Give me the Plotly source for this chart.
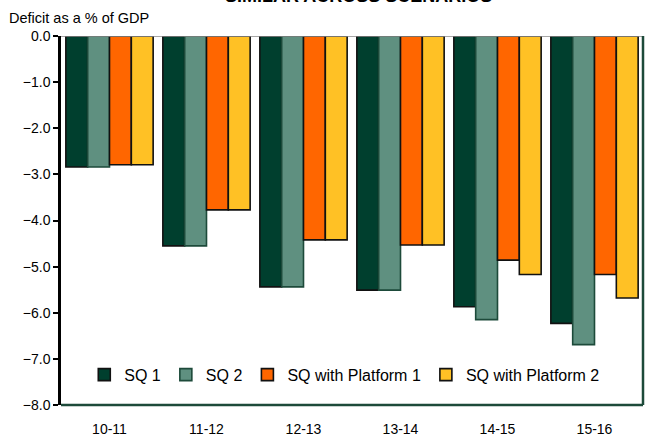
import plotly.graph_objects as go

years = ["10-11", "11-12", "12-13", "13-14", "14-15", "15-16"]
sq1 = [-2.84, -4.55, -5.44, -5.51, -5.87, -6.23]
sq2 = [-2.84, -4.55, -5.44, -5.51, -6.15, -6.69]
platform1 = [-2.79, -3.77, -4.42, -4.53, -4.86, -5.17]
platform2 = [-2.79, -3.77, -4.42, -4.53, -5.17, -5.68]

series = [
    ("SQ 1", sq1, "#003f2e", "#111111"),
    ("SQ 2", sq2, "#5f9080", "#1d4a3a"),
    ("SQ with Platform 1", platform1, "#ff6600", "#111111"),
    ("SQ with Platform 2", platform2, "#ffc125", "#111111"),
]

fig = go.Figure()
for name, vals, fill, edge in series:
    fig.add_trace(go.Bar(
        x=years, y=vals, name=name,
        marker=dict(color=fill, line=dict(color=edge, width=1.6)),
    ))

fig.update_layout(
    width=647, height=437,
    margin=dict(l=61, r=4, t=36, b=32),
    paper_bgcolor="white", plot_bgcolor="white",
    barmode="group", bargap=0.1, bargroupgap=0,
    font=dict(family="Liberation Sans, Arial, sans-serif", size=14, color="#000"),
    showlegend=True,
    legend=dict(
        orientation="h", x=0.04, y=0.082, xanchor="left", yanchor="middle",
        font=dict(size=16), bgcolor="rgba(0,0,0,0)",
        itemwidth=30, tracegroupgap=0,
    ),
    xaxis=dict(type="category", showline=False, ticks="outside", ticklen=11,
               tickcolor="rgba(0,0,0,0)", showgrid=False, automargin=False,
               zeroline=False, tickfont=dict(size=14)),
    yaxis=dict(range=[-8, 0], dtick=1, tickformat=".1f", showgrid=False,
               zeroline=False, showline=True, linecolor="#000", linewidth=2.5,
               ticks="outside", ticklen=5, tickwidth=2, tickcolor="#000",
               tickfont=dict(size=14)),
)

# frame: grey line at zero, dark green right and bottom edges
fig.add_shape(type="line", xref="paper", yref="y", x0=0, x1=1, y0=0, y1=0,
              line=dict(color="#888888", width=1.5), layer="above")
fig.add_shape(type="line", xref="paper", yref="paper", x0=0, x1=1, y0=0, y1=0,
              line=dict(color="#1d4a3a", width=2.5), layer="above")
fig.add_shape(type="line", xref="paper", yref="paper", x0=1, x1=1, y0=0, y1=1,
              line=dict(color="#1d4a3a", width=2.5), layer="above")

fig.add_annotation(text="Deficit as a % of GDP", xref="paper", yref="paper",
                   x=0, y=1, xshift=-54, yshift=8, xanchor="left", yanchor="bottom",
                   showarrow=False, font=dict(size=14.5))
fig.add_annotation(text="<b>SIMILAR ACROSS SCENARIOS</b>", xref="paper", yref="paper",
                   x=0.5, y=1, xshift=6, yshift=28, xanchor="center", yanchor="bottom",
                   showarrow=False, font=dict(size=18))

fig.write_html("out.html")
